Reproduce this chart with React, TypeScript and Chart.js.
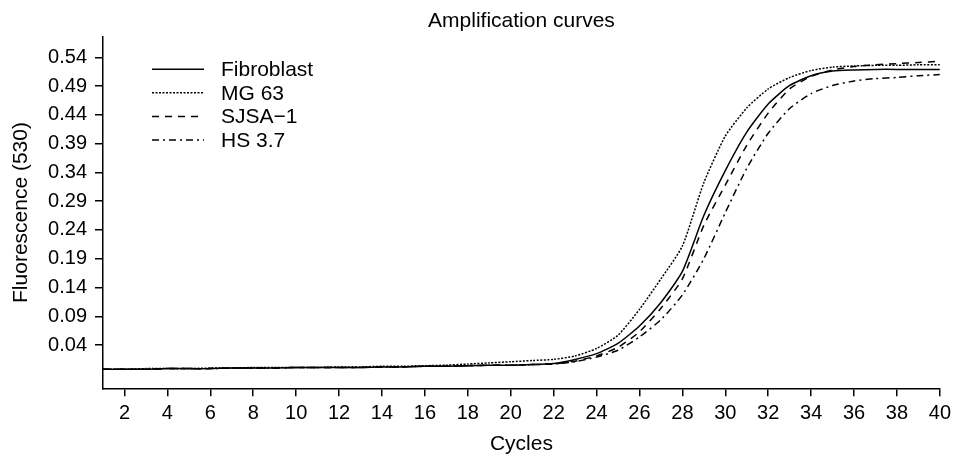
import React, { useEffect, useRef } from "react";
import { Chart, registerables } from "chart.js";

Chart.register(...registerables);

const FONT = '"Liberation Sans", Arial, Helvetica, sans-serif';

const cycles = [1, 2, 3, 4, 5, 6, 7, 8, 9, 10, 11, 12, 13, 14, 15, 16, 17, 18, 19, 20, 21, 22, 23, 24, 25, 26, 27, 28, 29, 30, 31, 32, 33, 34, 35, 36, 37, 38, 39, 40];

const fibroblast = [-0.002, -0.002, -0.002, -0.001, -0.001, -0.001, 0.0, 0.0, 0.0, 0.001, 0.001, 0.001, 0.001, 0.002, 0.002, 0.003, 0.003, 0.004, 0.005, 0.005, 0.006, 0.008, 0.015, 0.025, 0.043, 0.073, 0.114, 0.168, 0.265, 0.343, 0.41, 0.459, 0.491, 0.508, 0.516, 0.518, 0.519, 0.519, 0.519, 0.519];

const mg63 = [-0.002, -0.002, -0.001, -0.001, -0.001, 0.0, 0.0, 0.001, 0.001, 0.001, 0.001, 0.002, 0.002, 0.003, 0.003, 0.004, 0.005, 0.007, 0.009, 0.011, 0.013, 0.015, 0.021, 0.034, 0.057, 0.102, 0.155, 0.212, 0.322, 0.403, 0.452, 0.485, 0.505, 0.517, 0.523, 0.525, 0.526, 0.526, 0.527, 0.527];

const sjsa1 = [-0.002, -0.002, -0.002, -0.001, -0.001, -0.001, 0.0, 0.0, 0.0, 0.001, 0.001, 0.001, 0.001, 0.002, 0.002, 0.003, 0.003, 0.004, 0.005, 0.005, 0.006, 0.007, 0.012, 0.021, 0.036, 0.063, 0.104, 0.155, 0.248, 0.318, 0.387, 0.443, 0.485, 0.507, 0.518, 0.524, 0.527, 0.529, 0.531, 0.533];

const hs37 = [-0.002, -0.002, -0.002, -0.001, -0.001, -0.001, 0.0, 0.0, 0.0, 0.001, 0.001, 0.001, 0.001, 0.002, 0.002, 0.003, 0.003, 0.004, 0.005, 0.005, 0.006, 0.007, 0.011, 0.019, 0.031, 0.054, 0.084, 0.127, 0.19, 0.27, 0.347, 0.408, 0.451, 0.477, 0.491, 0.499, 0.503, 0.505, 0.508, 0.51];

const seriesLabels = ["Fibroblast", "MG 63", "SJSA\u22121", "HS 3.7"];
const seriesDashes = [[], [2, 1.5], [7, 6], [7, 4, 2, 4]];

const xTickValues = [2, 4, 6, 8, 10, 12, 14, 16, 18, 20, 22, 24, 26, 28, 30, 32, 34, 36, 38, 40];
const yTickValues = [0.04, 0.09, 0.14, 0.19, 0.24, 0.29, 0.34, 0.39, 0.44, 0.49, 0.54];

const chartTitle = "Amplification curves";
const xTitle = "Cycles";
const yTitle = "Fluorescence (530)";

const inlineLegend = {
  id: "inlineLegend",
  afterDraw(chart: any) {
    const { ctx, chartArea } = chart;
    ctx.save();
    chart.data.datasets.forEach((ds: any, i: number) => {
      const yBase = chartArea.top + 39.5 + i * 23.6;
      const yLine = yBase - 7;
      ctx.beginPath();
      ctx.setLineDash(ds.borderDash || []);
      ctx.lineWidth = 1.5;
      ctx.strokeStyle = "#000";
      ctx.moveTo(chartArea.left + 49, yLine);
      ctx.lineTo(chartArea.left + 101, yLine);
      ctx.stroke();
      ctx.setLineDash([]);
      ctx.font = `21px ${FONT}`;
      ctx.fillStyle = "#000";
      ctx.textAlign = "left";
      ctx.textBaseline = "alphabetic";
      ctx.fillText(ds.label, chartArea.left + 118, yBase);
    });
    ctx.restore();
  },
};

export default function App() {
  const canvasRef = useRef<HTMLCanvasElement | null>(null);

  useEffect(() => {
    if (!canvasRef.current) return;
    const seriesValues = [fibroblast, mg63, sjsa1, hs37];
    const chart = new Chart(canvasRef.current, {
      type: "line",
      data: {
        datasets: seriesValues.map((vals, k) => ({
          label: seriesLabels[k],
          data: cycles.map((c, i) => ({ x: c, y: vals[i] })),
          borderColor: "#000",
          borderWidth: 1.5,
          borderDash: seriesDashes[k],
          pointRadius: 0,
          fill: false,
          tension: 0.2,
        })),
      },
      options: {
        responsive: false,
        animation: false,
        devicePixelRatio: 1,
        layout: { padding: { left: 0, right: 12, top: 0, bottom: 0 } },
        plugins: {
          legend: { display: false },
          tooltip: { enabled: false },
          title: {
            display: true,
            text: chartTitle,
            fullSize: false,
            color: "#000",
            font: { size: 21, family: FONT, weight: "normal" },
            padding: { top: 8.4, bottom: 3.1 },
          },
        },
        scales: {
          x: {
            type: "linear",
            min: 1,
            max: 40,
            afterBuildTicks: (s: any) => {
              s.ticks = xTickValues.map((v) => ({ value: v }));
            },
            afterFit: (s: any) => {
              s.height = 68.7;
            },
            grid: {
              display: true,
              drawOnChartArea: false,
              drawTicks: true,
              tickLength: 8,
              color: "#000",
              lineWidth: 1.5,
            },
            border: { display: true, color: "#000", width: 1.5 },
            ticks: {
              color: "#000",
              font: { size: 20, family: FONT },
              padding: 5,
              maxRotation: 0,
              autoSkip: false,
              callback: (v: any) => String(v),
            },
            title: {
              display: true,
              text: xTitle,
              color: "#000",
              font: { size: 21, family: FONT },
              padding: { top: 0, bottom: 0 },
            },
          },
          y: {
            type: "linear",
            min: -0.0352,
            max: 0.5758,
            afterBuildTicks: (s: any) => {
              s.ticks = yTickValues.map((v) => ({ value: v }));
            },
            afterFit: (s: any) => {
              s.width = 103;
            },
            grid: {
              display: true,
              drawOnChartArea: false,
              drawTicks: true,
              tickLength: 8,
              color: "#000",
              lineWidth: 1.5,
            },
            border: { display: true, color: "#000", width: 1.5 },
            ticks: {
              color: "#000",
              font: { size: 20, family: FONT },
              padding: 8,
              autoSkip: false,
              callback: (v: any) => Number(v).toFixed(2),
            },
            title: {
              display: true,
              text: yTitle,
              color: "#000",
              font: { size: 21, family: FONT },
              padding: { top: 8.4, bottom: 0 },
            },
          },
        },
      },
      plugins: [inlineLegend],
    } as any);
    return () => chart.destroy();
  }, []);

  return (
    <div style={{ position: "absolute", left: 0, top: 0, width: 956, height: 457, background: "#fff" }}>
      <canvas ref={canvasRef} width={956} height={457} style={{ display: "block" }} />
    </div>
  );
}
